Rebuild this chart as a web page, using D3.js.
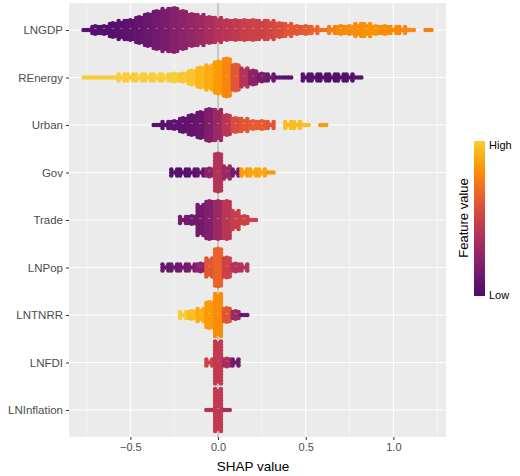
<!DOCTYPE html><html><head><meta charset="utf-8"><script src="https://cdn.jsdelivr.net/npm/d3@7"></script>
<style>body{margin:0;background:#fff}</style></head><body><svg id="c" width="520" height="476"></svg><script>
const features=["LNGDP","REnergy","Urban","Gov","Trade","LNPop","LNTNRR","LNFDI","LNInflation"];
const xTicks=[-0.5,0,0.5,1.0];
// bins: [shap center, half-height (px), feature value 0..1]
const LNGDP=[[-0.75,1,0.05],[-0.7,3,0.05],[-0.65,4,0.05],[-0.6,6,0.05],[-0.55,8,0.06],[-0.5,10,0.08],[-0.45,13,0.1],[-0.4,16,0.12],[-0.35,18,0.15],[-0.3,20,0.18],[-0.25,21,0.22],[-0.2,19,0.25],[-0.15,16,0.28],[-0.1,14,0.3],[-0.05,12,0.35],[0,11,0.4],[0.05,10,0.42],[0.1,9,0.45],[0.15,9,0.48],[0.2,9,0.5],[0.25,8,0.5],[0.3,8,0.52],[0.35,7,0.55],[0.4,5,0.6],[0.45,4,0.6],[0.5,3,0.62],[0.55,2,0.65],[0.6,1,0.7],[0.65,2,0.75],[0.7,3,0.78],[0.75,4,0.8],[0.8,5,0.8],[0.85,5,0.82],[0.9,4,0.82],[0.95,3,0.8],[1.0,2,0.8],[1.05,2,0.78],[1.1,1,0.78],[1.2,1,0.75]];
const REnergy=[[-0.75,1,1],[-0.7,1,1],[-0.65,1,1],[-0.6,1,1],[-0.55,1.5,1],[-0.5,1.5,1],[-0.45,1.5,1],[-0.4,2,1],[-0.35,2,1],[-0.3,2,1],[-0.25,3,1],[-0.2,4,0.98],[-0.15,6,0.97],[-0.1,9,0.93],[-0.05,11,0.9],[0,15,0.85],[0.05,18,0.78],[0.1,12,0.6],[0.15,8,0.4],[0.2,6,0.25],[0.25,3,0.18],[0.3,2,0.12],[0.35,1,0.08],[0.4,1,0.05],[0.5,1.5,0.05],[0.55,1.5,0.05],[0.6,1.5,0.04],[0.65,1.5,0.04],[0.7,1.5,0.04],[0.75,1.5,0.04],[0.8,1,0.04]];
const Urban=[[-0.35,1,0.05],[-0.3,2,0.06],[-0.25,4,0.08],[-0.2,7,0.08],[-0.15,10,0.1],[-0.1,13,0.12],[-0.05,16,0.2],[0,14,0.3],[0.05,9,0.42],[0.1,6,0.55],[0.15,5,0.6],[0.2,4,0.62],[0.25,3,0.62],[0.3,2,0.6],[0.4,1.5,0.95],[0.45,1.5,0.95],[0.5,1,0.95],[0.6,1,0.85]];
const Gov=[[-0.25,2,0.05],[-0.2,2,0.05],[-0.15,2,0.06],[-0.1,2,0.1],[-0.05,4,0.25],[0,18,0.4],[0.05,5,0.3],[0.1,2,0.15],[0.15,2,0.85],[0.2,2,0.88],[0.25,2,0.88],[0.3,1,0.85]];
const Trade=[[-0.2,2,0.15],[-0.15,4,0.15],[-0.1,14,0.15],[-0.05,18,0.2],[0,18,0.3],[0.05,18,0.42],[0.1,8,0.48],[0.15,4,0.5],[0.2,1,0.5]];
const LNPop=[[-0.3,2,0.12],[-0.25,2,0.14],[-0.2,2,0.15],[-0.15,2,0.18],[-0.1,3,0.25],[-0.05,8,0.6],[0,18,0.65],[0.05,10,0.5],[0.1,3,0.4],[0.15,2,0.4]];
const LNTNRR=[[-0.2,2,1],[-0.15,3,0.95],[-0.1,5,0.9],[-0.05,12,0.85],[0,20,0.8],[0.05,7,0.6],[0.1,3,0.3],[0.15,1,0.1]];
const LNFDI=[[-0.05,2,0.5],[0,20,0.45],[0.05,4,0.35],[0.1,2,0.15]];
const LNInflation=[[-0.05,1,0.4],[0,20,0.45],[0.05,1,0.35]];
const bins=[LNGDP,REnergy,Urban,Gov,Trade,LNPop,LNTNRR,LNFDI,LNInflation];

const svg=d3.select("#c");
const L=69,R=446,T=3,B=437;
const x=d3.scaleLinear().domain([-0.85,1.3]).range([L,R]);
const y=d3.scalePoint().domain(features).range([30,410]);
const col=d3.scaleSequential(t=>d3.interpolateInferno(0.22+0.66*t)).domain([0,1]);
svg.append("rect").attr("x",L).attr("y",T).attr("width",R-L).attr("height",B-T).attr("fill","#EBEBEB");
const g=svg.append("g");
[-0.75,-0.25,0.25,0.75,1.25].forEach(v=>g.append("line").attr("x1",x(v)).attr("x2",x(v)).attr("y1",T).attr("y2",B).attr("stroke","#fff").attr("stroke-width",0.5));
xTicks.forEach(v=>g.append("line").attr("x1",x(v)).attr("x2",x(v)).attr("y1",T).attr("y2",B).attr("stroke","#fff").attr("stroke-width",1.1));
features.forEach(f=>g.append("line").attr("x1",L).attr("x2",R).attr("y1",y(f)).attr("y2",y(f)).attr("stroke","#fff").attr("stroke-width",1.1));
g.append("line").attr("x1",x(0)).attr("x2",x(0)).attr("y1",T).attr("y2",B).attr("stroke","#999").attr("stroke-width",1);
const dots=[];
features.forEach((f,i)=>{
  bins[i].forEach(([s,h,fv])=>{
    [-0.0167,0,0.0167].forEach((dx,ci)=>{
      const off=ci===1?1.5:0;
      const n=Math.max(0,Math.round((h-off)/3));
      if(ci===1&&h<2.5){dots.push({x:s+dx,y:y(f),fv});return;}
      for(let k=-n;k<=n;k++){dots.push({x:s+dx,y:y(f)+k*3+(ci===1?(k<0?-off:off)*0.5:0),fv});}
    });
  });
});
g.selectAll("circle").data(dots).join("circle").attr("cx",d=>x(d.x)).attr("cy",d=>d.y).attr("r",2.3).attr("fill",d=>col(d.fv));
const ax=svg.append("g").attr("transform",`translate(0,${B})`).call(d3.axisBottom(x).tickValues(xTicks).tickFormat(d3.format(".1f")).tickSize(3).tickPadding(3));
ax.select(".domain").remove();
ax.selectAll("text").attr("font-family","Arial, Liberation Sans, sans-serif").attr("font-size",11).attr("fill","#4D4D4D").text(d=>d3.format(".1f")(d).replace("-","−"));
ax.selectAll("line").attr("stroke","#333");
const ay=svg.append("g").attr("transform",`translate(${L},0)`).call(d3.axisLeft(y).tickSize(3).tickPadding(3));
ay.select(".domain").remove();
ay.selectAll("text").attr("font-family","Arial, Liberation Sans, sans-serif").attr("font-size",11.5).attr("fill","#4D4D4D");
ay.selectAll("line").attr("stroke","#333");
svg.append("text").attr("x",x(0.2)).attr("y",471).attr("text-anchor","middle").attr("font-family","Arial, Liberation Sans, sans-serif").attr("font-size",13.5).attr("fill","#000").text("SHAP value");
const defs=svg.append("defs");const lg=defs.append("linearGradient").attr("id","lg").attr("x1",0).attr("x2",0).attr("y1",1).attr("y2",0);
d3.range(0,1.01,0.1).forEach(t=>lg.append("stop").attr("offset",t).attr("stop-color",col(t)));
svg.append("rect").attr("x",474).attr("y",141).attr("width",11).attr("height",155).attr("fill","url(#lg)");
svg.append("text").attr("x",489).attr("y",149).attr("font-family","Arial, Liberation Sans, sans-serif").attr("font-size",11).attr("fill","#000").text("High");
svg.append("text").attr("x",489).attr("y",299).attr("font-family","Arial, Liberation Sans, sans-serif").attr("font-size",11).attr("fill","#000").text("Low");
svg.append("text").attr("transform","translate(468,218) rotate(-90)").attr("text-anchor","middle").attr("font-family","Arial, Liberation Sans, sans-serif").attr("font-size",13).attr("fill","#000").text("Feature value");
</script></body></html>
